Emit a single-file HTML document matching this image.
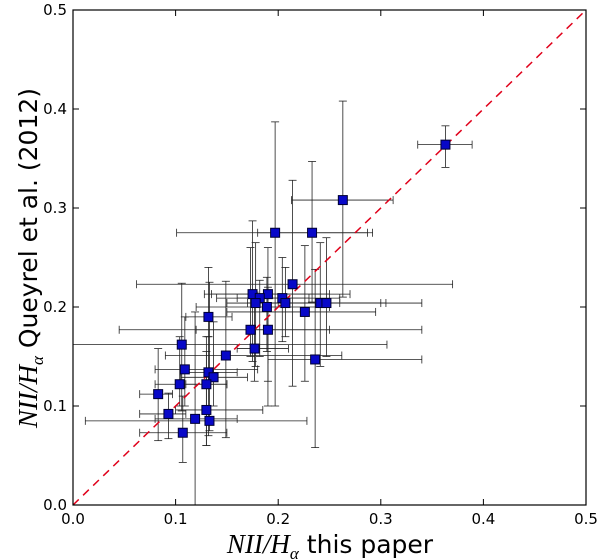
<!DOCTYPE html>
<html><head><meta charset="utf-8">
<style>
body{margin:0;background:#fff;}
svg{display:block;font-family:"DejaVu Sans","Liberation Sans",sans-serif;}
</style></head>
<body>
<svg id="chart" width="600" height="560" viewBox="0 0 600 560" xmlns="http://www.w3.org/2000/svg">
<rect x="0" y="0" width="600" height="560" fill="#fff"/>
<g id="errs"></g>
<line id="diag" stroke="#e0001a" stroke-width="1.5" stroke-dasharray="8,6"/>
<g id="pts"></g>
<rect x="73" y="10" width="513" height="495" fill="none" stroke="#000" stroke-width="1.2"/>
<g id="ticks"></g>
<text x="330" y="553" font-size="25" text-anchor="middle"><tspan font-family="Liberation Serif,serif" font-style="italic" font-size="27">NII/H</tspan><tspan font-family="Liberation Serif,serif" font-style="italic" font-size="17" dy="6">α</tspan><tspan dy="-6">  this paper</tspan></text>
<text transform="translate(37,258) rotate(-90)" font-size="25" text-anchor="middle"><tspan font-family="Liberation Serif,serif" font-style="italic" font-size="27">NII/H</tspan><tspan font-family="Liberation Serif,serif" font-style="italic" font-size="17" dy="6">α</tspan><tspan dy="-6">  Queyrel et al. (2012)</tspan></text>
</svg>
<script>
const xVals=[0.363,0.263,0.197,0.233,0.214,0.175,0.190,0.182,0.178,0.204,0.189,0.207,0.241,0.247,0.226,0.132,0.173,0.190,0.106,0.177,0.149,0.236,0.109,0.132,0.137,0.104,0.130,0.083,0.093,0.130,0.119,0.133,0.107];
const yVals=[0.364,0.308,0.275,0.275,0.223,0.213,0.213,0.209,0.204,0.209,0.200,0.204,0.204,0.204,0.195,0.190,0.177,0.177,0.162,0.158,0.151,0.147,0.137,0.134,0.129,0.122,0.122,0.112,0.092,0.096,0.087,0.085,0.073];
const xLo=[0.336,0.213,0.101,0.180,0.062,0.135,0.128,0.140,0.150,0.160,0.120,0.170,0.200,0.185,0.150,0.110,0.045,0.120,0.000,0.160,0.090,0.190,0.080,0.105,0.105,0.080,0.110,0.065,0.065,0.100,0.080,0.012,0.065];
const xHi=[0.389,0.312,0.287,0.292,0.370,0.250,0.270,0.230,0.260,0.260,0.250,0.305,0.300,0.340,0.295,0.155,0.340,0.250,0.306,0.210,0.262,0.340,0.180,0.160,0.170,0.150,0.150,0.097,0.110,0.185,0.160,0.228,0.150];
const yLo=[0.341,0.210,0.100,0.205,0.120,0.145,0.125,0.150,0.140,0.165,0.155,0.170,0.140,0.150,0.125,0.170,0.150,0.100,0.095,0.125,0.068,0.058,0.100,0.070,0.100,0.100,0.060,0.065,0.067,0.060,0.000,0.075,0.043];
const yHi=[0.383,0.408,0.387,0.347,0.328,0.287,0.260,0.227,0.265,0.250,0.230,0.240,0.265,0.270,0.262,0.240,0.260,0.220,0.224,0.215,0.226,0.238,0.190,0.170,0.185,0.170,0.170,0.158,0.113,0.155,0.195,0.225,0.110];
const tickVals=[0.0,0.1,0.2,0.3,0.4,0.5];
const tickLabels=["0.0","0.1","0.2","0.3","0.4","0.5"];

const X0=73,XS=1026,Y0=505,YS=990;
const sx=v=>X0+v*XS, sy=v=>Y0-v*YS;
const NS="http://www.w3.org/2000/svg";
function mk(tag,attrs,parent){const e=document.createElementNS(NS,tag);for(const k in attrs)e.setAttribute(k,attrs[k]);parent.appendChild(e);return e;}
const errs=document.getElementById('errs'),pts=document.getElementById('pts'),ticks=document.getElementById('ticks');
const d=document.getElementById('diag');
d.setAttribute('x1',sx(0));d.setAttribute('y1',sy(0));d.setAttribute('x2',sx(0.5));d.setAttribute('y2',sy(0.5));
for(let i=0;i<xVals.length;i++){
  const cx=sx(xVals[i]),cy=sy(yVals[i]);
  const g=mk('g',{stroke:'#222','stroke-width':0.8},errs);
  
  
  const a=sx(xLo[i]),b=sx(xHi[i]),c=sy(yLo[i]),e=sy(yHi[i]);
  mk('line',{x1:a,y1:cy,x2:b,y2:cy},g);
  mk('line',{x1:a,y1:cy-4,x2:a,y2:cy+4},g);
  mk('line',{x1:b,y1:cy-4,x2:b,y2:cy+4},g);
  mk('line',{x1:cx,y1:c,x2:cx,y2:e},g);
  mk('line',{x1:cx-4,y1:c,x2:cx+4,y2:c},g);
  mk('line',{x1:cx-4,y1:e,x2:cx+4,y2:e},g);
  const r=mk('rect',{x:cx-4.5,y:cy-4.5,width:9,height:9,fill:'#0808c8',stroke:'#000033','stroke-width':1},pts);
  
  
}
for(let i=0;i<tickVals.length;i++){
  const x=sx(tickVals[i]),y=sy(tickVals[i]);
  mk('line',{x1:x,y1:505,x2:x,y2:499,stroke:'#000'},ticks);
  mk('line',{x1:x,y1:10,x2:x,y2:16,stroke:'#000'},ticks);
  mk('line',{x1:73,y1:y,x2:79,y2:y,stroke:'#000'},ticks);
  mk('line',{x1:586,y1:y,x2:580,y2:y,stroke:'#000'},ticks);
  const tx=mk('text',{x:x,y:524,'font-size':15,'text-anchor':'middle'},ticks);
  tx.textContent=tickLabels[i];
  
  
  const ty=mk('text',{x:67,y:y+5,'font-size':15,'text-anchor':'end'},ticks);
  ty.textContent=tickLabels[i];
  
  
}
</script>
</body></html>
